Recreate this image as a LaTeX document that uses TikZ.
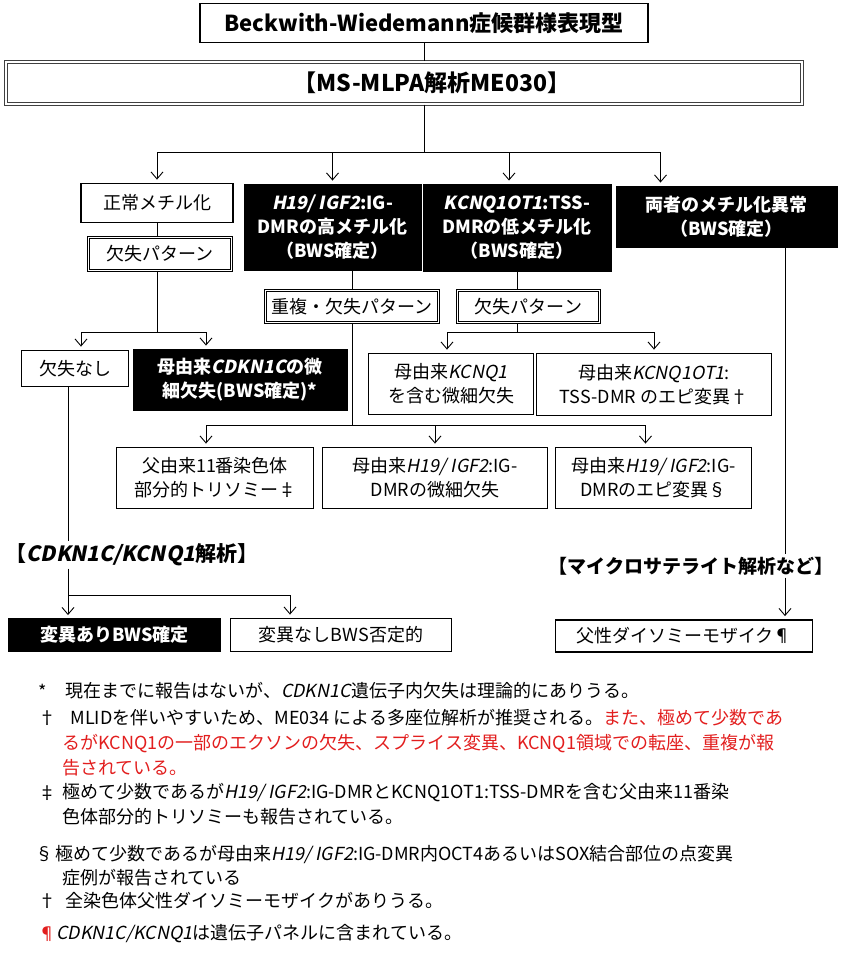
\documentclass[tikz,border=0pt]{standalone}
\usepackage{fontspec}
\setmainfont{Noto Sans CJK JP}
\newfontfamily\slantfont{Noto Sans CJK JP}[FakeSlant=0.2]
\newcommand\gene[1]{{\slantfont #1}}
\usetikzlibrary{arrows.meta}
\definecolor{notered}{RGB}{226,30,30}

\begin{document}
\begin{tikzpicture}[x=1pt,y=-1pt,line width=0.9pt,
    every node/.style={font=\fontsize{18}{24}\selectfont, align=center, inner sep=0pt},
    wbox/.style={draw, line width=1.8pt, fill=white},
    bbox/.style={draw, fill=black, text=white, font=\fontsize{18}{24}\selectfont\bfseries},
    dbox/.style={draw, double, double distance=1.6pt, line width=0.9pt},
    head/.style={font=\fontsize{23}{28}\selectfont\bfseries},
    note/.style={anchor=west, font=\fontsize{18}{22}\selectfont},
    arr/.style={-{Straight Barb[length=7pt,width=12pt]}, shorten >=3pt}]
    \useasboundingbox (0,0) rectangle (845,960);

    \node[wbox, head, font=\fontsize{22}{28}\selectfont\bfseries, minimum width=448, minimum height=39] (title) at (424,23) {Beckwith-Wiedemann症候群様表現型};
    \node[dbox, draw=black!75, double distance=2pt, line width=1.2pt, head, minimum width=796, minimum height=42] (mlpa) at (404,83) {\hspace*{56pt}【MS-MLPA解析ME030】};

    \node[wbox, minimum width=152, minimum height=39] (normal) at (157,203) {正常メチル化};
    \node[dbox, minimum width=143, minimum height=33] (delpat) at (160,254) {欠失パターン};
    \node[bbox, minimum width=177, minimum height=86] (h19) at (332.5,227) {\gene{H19/ IGF2}:IG-\\DMRの高メチル化\\（BWS確定）};
    \node[bbox, minimum width=188, minimum height=87] (kcnq) at (517,227.5) {\gene{KCNQ1OT1}:TSS-\\DMRの低メチル化\\（BWS確定）};
    \node[bbox, minimum width=221, minimum height=61] (both) at (726.5,216.5) {両者のメチル化異常\\（BWS確定）};

    \node[dbox, minimum width=173, minimum height=32] (dupdel) at (352,306.5) {重複・欠失パターン};
    \node[dbox, minimum width=142, minimum height=32] (del2) at (528.5,306.5) {欠失パターン};

    \node[wbox, minimum width=107, minimum height=36] (nodel) at (75,368.5) {欠失なし};
    \node[bbox, minimum width=214, minimum height=61] (cdkn) at (240,379.5) {母由来\gene{CDKN1C}の微\\細欠失(BWS確定)*};
    \node[wbox, minimum width=165, minimum height=61] (kq1) at (451,384) {母由来\gene{KCNQ1}\\を含む微細欠失};
    \node[wbox, minimum width=235, minimum height=62] (kqot) at (654,384.5) {母由来\gene{KCNQ1OT1}:\\TSS-DMR のエピ変異†};

    \node[wbox, minimum width=197, minimum height=61] (tri) at (215,478) {父由来11番染色体\\部分的トリソミー‡};
    \node[wbox, minimum width=225, minimum height=61] (micro) at (435,478) {母由来\gene{H19/ IGF2}:IG-\\DMRの微細欠失};
    \node[wbox, minimum width=196, minimum height=61] (epi) at (653.5,478) {母由来\gene{H19/ IGF2}:IG-\\DMRのエピ変異§};

    \node[font=\fontsize{21}{26}\selectfont\bfseries, inner ysep=2pt] (cdlab) at (132,555) {【\gene{CDKN1C/KCNQ1}解析】};
    \node[font=\fontsize{19}{24}\selectfont\bfseries, inner ysep=2pt] (mslab) at (691,566) {【マイクロサテライト解析など】};

    \node[bbox, minimum width=212, minimum height=33] (mutp) at (114.5,635) {変異ありBWS確定};
    \node[wbox, minimum width=221, minimum height=33] (mutn) at (341,635) {変異なしBWS否定的};
    \node[wbox, minimum width=257, minimum height=32] (pat) at (684,636) {父性ダイソミーモザイク¶};

    \coordinate (s0) at (424,152);
    \draw (title.south) -- (title.south |- mlpa.north);
    \draw (title.south |- mlpa.south) -- (s0);
    \draw[arr] (s0) -| (normal.north);
    \draw[arr] (s0) -| (h19.north);
    \draw[arr] (s0) -| ([xshift=-8pt]kcnq.north);
    \draw[arr] (s0) -| ([xshift=-66pt]both.north);

    \coordinate (s1) at (157,332);
    \draw (normal.south) -- (normal.south |- delpat.north);
    \draw (normal.south |- delpat.south) -- (s1);
    \draw[arr] (s1) -| ([xshift=6pt]nodel.north);
    \draw[arr] (s1) -| ([xshift=-34pt]cdkn.north);

    \coordinate (s2) at (352,425);
    \draw (dupdel.north) -- (dupdel.north |- h19.south);
    \draw (dupdel.south) -- (s2);
    \draw[arr] (s2) -| ([xshift=-9pt]tri.north);
    \draw[arr] (s2) -| (micro.north);
    \draw[arr] (s2) -| ([xshift=-8pt]epi.north);

    \coordinate (s3) at (517,332);
    \draw (kcnq.south) -- (kcnq.south |- del2.north);
    \draw (kcnq.south |- del2.south) -- (s3);
    \draw[arr] (s3) -| ([xshift=-4pt]kq1.north);
    \draw[arr] (s3) -| (kqot.north);

    \coordinate (s4) at (68,595);
    \draw (nodel.south -| s4) -- (cdlab.north -| s4);
    \draw (cdlab.south -| s4) -- (s4);
    \draw[arr] (s4) -- (mutp.north -| s4);
    \draw[arr] (s4) -| ([xshift=-51pt]mutn.north);

    \coordinate (rx) at (785,600);
    \draw (both.south -| rx) -- (mslab.north -| rx);
    \draw[arr] (mslab.south -| rx) -- (pat.north -| rx);

    \node[note] (m1) at (38,691) {*};
    \node[note] (f1) at (65,691) {現在までに報告はないが、\gene{CDKN1C}遺伝子内欠失は理論的にありうる。};
    \node[note] (m2) at (38,718) {†};
    \node[note] (f2) at (70,718) {MLIDを伴いやすいため、ME034 による多座位解析が推奨される。\textcolor{notered}{また、極めて少数であ}};
    \node[note, text=notered] (f3) at (62,744) {るがKCNQ1の一部のエクソンの欠失、スプライス変異、KCNQ1領域での転座、重複が報};
    \node[note, text=notered] (f4) at (62,768) {告されている。};
    \node[note] (m5) at (38,793) {‡};
    \node[note] (f5) at (62,793) {極めて少数であるが\gene{H19/ IGF2}:IG-DMRとKCNQ1OT1:TSS-DMRを含む父由来11番染};
    \node[note] (f6) at (62,817) {色体部分的トリソミーも報告されている。};
    \node[note] (m7) at (35,854) {§};
    \node[note] (f7) at (55,854) {極めて少数であるが母由来\gene{H19/ IGF2}:IG-DMR内OCT4あるいはSOX結合部位の点変異};
    \node[note] (f8) at (62,878) {症例が報告されている};
    \node[note] (m9) at (38,901) {†};
    \node[note] (f9) at (65,901) {全染色体父性ダイソミーモザイクがありうる。};
    \node[note, text=notered] (m10) at (38,934) {¶};
    \node[note] (f10) at (56,934) {\gene{CDKN1C/KCNQ1}は遺伝子パネルに含まれている。};
\end{tikzpicture}
\end{document}
